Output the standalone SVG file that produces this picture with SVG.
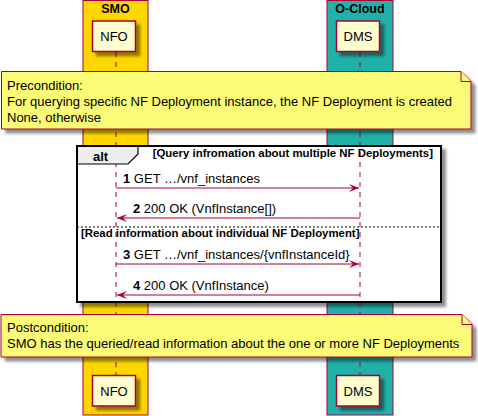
<svg xmlns="http://www.w3.org/2000/svg" width="478" height="416" viewBox="0 0 478 416">
<defs>
<filter id="sh" x="-10%" y="-10%" width="130%" height="140%">
<feGaussianBlur in="SourceAlpha" stdDeviation="1.5"/>
<feOffset dx="4" dy="4" result="b"/>
<feComponentTransfer><feFuncA type="linear" slope="0.45"/></feComponentTransfer>
<feMerge><feMergeNode/><feMergeNode in="SourceGraphic"/></feMerge>
</filter>
<marker id="ah" markerWidth="10" markerHeight="8" refX="10" refY="4" orient="auto-start-reverse" markerUnits="userSpaceOnUse">
<polygon points="0,0 10,4 0,8 4,4" fill="#A80036"/>
</marker>
</defs>
<style>
text{font-family:"Liberation Sans",Arial,sans-serif;fill:#000}
.part rect{fill:#FEFECE;stroke:#A80036;stroke-width:1.5}
.part text{font-size:13px;text-anchor:middle}
.life{stroke:#A80036;stroke-width:1;stroke-dasharray:5,5}
.note{fill:#FBFB77;stroke:#A80036;stroke-width:1}
.nt{font-size:13px}
.msg{stroke:#A80036;stroke-width:1;fill:none}
.mt{font-size:13px}
.b{font-weight:bold}
.cond{font-size:11.4px;font-weight:bold}
</style>
<rect x="83" y="0.5" width="65" height="414.5" fill="#FFD700" stroke="#A80036" stroke-width="1"/>
<rect x="327" y="0.5" width="66" height="414.5" fill="#20B2AA" stroke="#A80036" stroke-width="1"/>
<text x="115.5" y="13" font-size="12.5" font-weight="bold" text-anchor="middle">SMO</text>
<text x="360" y="13" font-size="12.5" font-weight="bold" text-anchor="middle">O-Cloud</text>
<rect x="77" y="146" width="364" height="156" fill="#FFFFFF" stroke="#000" stroke-width="2" filter="url(#sh)"/>
<line class="life" x1="116" y1="52" x2="116" y2="375"/>
<line class="life" x1="360" y1="52" x2="360" y2="375"/>
<g id="nfo-top" class="part"><rect x="92.5" y="21" width="43" height="30.5" filter="url(#sh)"/><text x="114" y="41">NFO</text></g>
<g id="dms-top" class="part"><rect x="336.5" y="21" width="43" height="30.5" filter="url(#sh)"/><text x="358" y="41">DMS</text></g>
<g id="nfo-bottom" class="part"><rect x="92.5" y="375.5" width="43" height="30.5" filter="url(#sh)"/><text x="114" y="396">NFO</text></g>
<g id="dms-bottom" class="part"><rect x="336.5" y="375.5" width="43" height="30.5" filter="url(#sh)"/><text x="358" y="396">DMS</text></g>
<g id="precondition">
<path class="note" d="M1.5,71.5 H461 L471,81.5 V129 H1.5 Z" filter="url(#sh)"/>
<path class="note" d="M461,71.5 V81.5 H471" fill="none"/>
<text class="nt" x="7" y="90">Precondition:</text>
<text class="nt" x="7" y="106">For querying specific NF Deployment instance, the NF Deployment is created</text>
<text class="nt" x="7" y="122">None, otherwise</text>
</g>
<g id="alt">
<path d="M77,146 H138 V154 L128,164 H77 Z" fill="#EEEEEE" stroke="#000" stroke-width="1.2"/>
<rect x="77" y="146" width="364" height="156" fill="none" stroke="#000" stroke-width="2"/>
<text x="93" y="161" font-size="13" font-weight="bold">alt</text>
<text class="cond" x="433" y="157" text-anchor="end">[Query infromation about multiple NF Deployments]</text>
<line x1="77" y1="227" x2="441" y2="227" stroke="#000" stroke-width="1" stroke-dasharray="2,2"/>
<text class="cond" x="81" y="237">[Read information about individual NF Deployment]</text>
</g>
<g id="connectors">
<line class="msg" x1="116" y1="188" x2="359" y2="188" marker-end="url(#ah)"/>
<text class="mt" x="123" y="183"><tspan class="b">1</tspan> GET …/vnf_instances</text>
<line class="msg" x1="117" y1="218" x2="360" y2="218" marker-start="url(#ah)"/>
<text class="mt" x="133" y="213"><tspan class="b">2</tspan> 200 OK (VnfInstance[])</text>
<line class="msg" x1="116" y1="264" x2="359" y2="264" marker-end="url(#ah)"/>
<text class="mt" x="123" y="259"><tspan class="b">3</tspan> GET …/vnf_instances/{vnfInstanceId}</text>
<line class="msg" x1="117" y1="295" x2="360" y2="295" marker-start="url(#ah)"/>
<text class="mt" x="133" y="290"><tspan class="b">4</tspan> 200 OK (VnfInstance)</text>
</g>
<g id="postcondition">
<path class="note" d="M1,314.5 H462 L472,324.5 V357 H1 Z" filter="url(#sh)"/>
<path class="note" d="M462,314.5 V324.5 H472" fill="none"/>
<text class="nt" x="7" y="332">Postcondition:</text>
<text class="nt" x="7" y="348">SMO has the queried/read information about the one or more NF Deployments</text>
</g>
</svg>
